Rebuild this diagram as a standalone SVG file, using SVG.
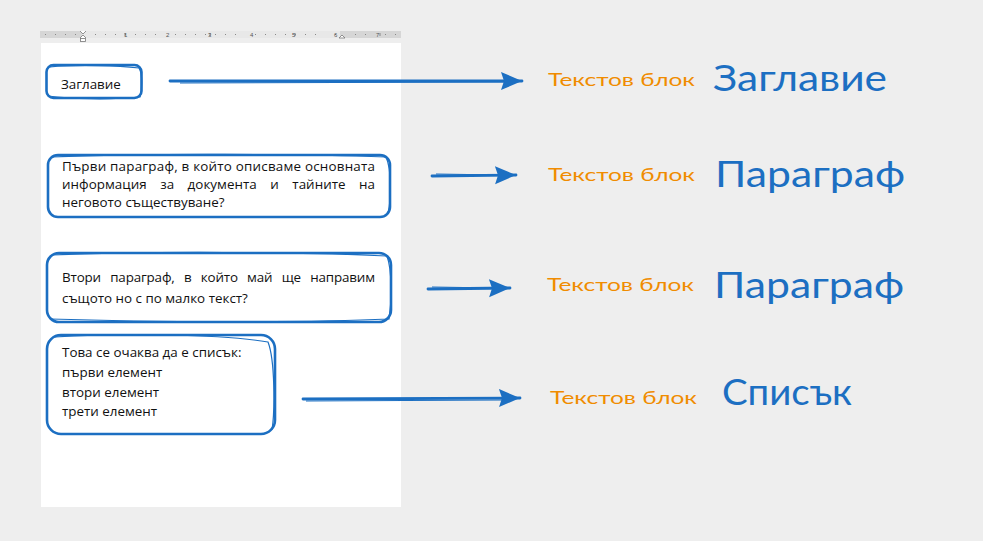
<svg xmlns="http://www.w3.org/2000/svg" width="983" height="541" viewBox="0 0 983 541">
<defs>
<style>
.doc{font-family:"Open Sans","Noto Sans","Liberation Sans",sans-serif;font-size:13.4px;fill:#111}
.box{fill:none;stroke:#1c6fc2;stroke-width:2.6;stroke-linejoin:round}
.box2{fill:none;stroke:#1c6fc2;stroke-width:1.2}
.lbl{font-family:"Lato","Noto Sans",sans-serif;font-size:17px;fill:#f08c00}
.big{font-family:"Lato","Noto Sans",sans-serif;font-size:36px;fill:#1c6fc2}
.shaft{stroke:#1c6fc2;stroke-width:2.8;fill:none;stroke-linecap:round}
.shaft2{stroke:#1c6fc2;stroke-width:1.2;fill:none}
.tick{stroke:#888;stroke-width:1}
</style>
<marker id="ah" markerUnits="userSpaceOnUse" markerWidth="24" markerHeight="20" refX="21" refY="9" orient="auto">
<path d="M0,0 L21,9 L0,18 L3,9 Z" fill="#1c6fc2"/>
</marker>
</defs>
<rect width="983" height="541" fill="#eeeeee"/>
<g id="page">
<rect x="40" y="31" width="361" height="7" fill="#d6d6d6"/>
<rect x="82" y="31" width="258" height="7" fill="#e8e8e8"/>
<g class="tick">
<path d="M45,34.5h1M55,34.5h1M65,34.5h1M75,34.5h1M95,34.5h1M105,34.5h1M115,34.5h1M125,34.5h1M135,34.5h1M145,34.5h1M155,34.5h1M175,34.5h1M185,34.5h1M195,34.5h1M205,34.5h1M215,34.5h1M225,34.5h1M235,34.5h1M255,34.5h1M265,34.5h1M275,34.5h1M285,34.5h1M295,34.5h1M305,34.5h1M315,34.5h1M335,34.5h1M355,34.5h1M365,34.5h1M385,34.5h1M395,34.5h1"/>
<path d="M125,33v3M210,33v3M295,33v3M380,33v3"/>
</g>
<g font-family="Liberation Sans,sans-serif" font-size="6" fill="#555">
<text x="124" y="36.5">1</text><text x="166" y="36.5">2</text><text x="208" y="36.5">3</text><text x="250" y="36.5">4</text><text x="292" y="36.5">5</text><text x="334" y="36.5">6</text><text x="376" y="36.5">7</text>
</g>
<path d="M80,31l3,3l3,-3M80,38l3,-3l3,3" fill="#fff" stroke="#777" stroke-width="0.8"/>
<rect x="80.5" y="38.5" width="5" height="3" fill="#fff" stroke="#777" stroke-width="0.8"/>
<path d="M339,38l3,-3l3,3z" fill="#fff" stroke="#777" stroke-width="0.8"/>
<rect x="41" y="43" width="360" height="464" fill="#ffffff"/>
</g>
<g id="node-title">
<rect class="box" x="46.5" y="65" width="95" height="33" rx="7"/>
<path class="box2" d="M50,67 C80,64 120,66 139,68 C143,75 142,90 140,97 C110,100 70,99 48,96"/>
<text class="doc" x="61" y="89">Заглавие</text>
</g>
<g id="node-para1">
<rect class="box" x="48" y="155" width="342" height="62" rx="10"/>
<path class="box2" d="M52,157 C150,153 300,154 386,157 C392,170 391,200 388,214"/>
<text class="doc" x="62" y="171" textLength="313" lengthAdjust="spacing">Първи параграф, в който описваме основната</text>
<text class="doc" x="62" y="189" textLength="313" lengthAdjust="spacing" word-spacing="10">информация за документа и тайните на</text>
<text class="doc" x="62" y="207">неговото съществуване?</text>
</g>
<g id="node-para2">
<rect class="box" x="47" y="253" width="344" height="69" rx="12"/>
<path class="box2" d="M52,255 C150,251 300,252 387,256 C392,270 392,300 389,319 C300,323 150,322 50,319"/>
<text class="doc" x="62" y="282" textLength="313" lengthAdjust="spacing" word-spacing="6">Втори параграф, в който май ще направим</text>
<text class="doc" x="62" y="303">същото но с по малко текст?</text>
</g>
<g id="node-list">
<rect class="box" x="47" y="335" width="228" height="99" rx="14"/>
<path class="box2" d="M55,337 C120,333 220,334 268,342 C275,360 275,410 272,430"/>
<text class="doc" x="62" y="357">Това се очаква да е списък:</text>
<text class="doc" x="62" y="377">първи елемент</text>
<text class="doc" x="62" y="397">втори елемент</text>
<text class="doc" x="62" y="416">трети елемент</text>
</g>
<g id="connectors">
<path class="shaft" d="M170,81 L522,81" marker-end="url(#ah)"/>
<path class="shaft2" d="M180,83 L505,82"/>
<path class="shaft" d="M432,176 L516,175" marker-end="url(#ah)"/>
<path class="shaft2" d="M436,174 L500,175"/>
<path class="shaft" d="M428,289 L510,288" marker-end="url(#ah)"/>
<path class="shaft2" d="M432,287 L495,288"/>
<path class="shaft" d="M303,399 L520,398" marker-end="url(#ah)"/>
<path class="shaft2" d="M306,401 L505,400"/>
</g>
<g id="label-title">
<text class="lbl" x="548" y="86" textLength="147" lengthAdjust="spacingAndGlyphs">Текстов блок</text>
<text class="big" x="713" y="91" textLength="174" lengthAdjust="spacingAndGlyphs">Заглавие</text>
</g>
<g id="label-para1">
<text class="lbl" x="548" y="181" textLength="147" lengthAdjust="spacingAndGlyphs">Текстов блок</text>
<text class="big" x="715" y="187" textLength="190" lengthAdjust="spacingAndGlyphs">Параграф</text>
</g>
<g id="label-para2">
<text class="lbl" x="547" y="291" textLength="147" lengthAdjust="spacingAndGlyphs">Текстов блок</text>
<text class="big" x="714" y="298" textLength="190" lengthAdjust="spacingAndGlyphs">Параграф</text>
</g>
<g id="label-list">
<text class="lbl" x="550" y="404" textLength="147" lengthAdjust="spacingAndGlyphs">Текстов блок</text>
<text class="big" x="722" y="405" textLength="130" lengthAdjust="spacingAndGlyphs">Списък</text>
</g>
</svg>
